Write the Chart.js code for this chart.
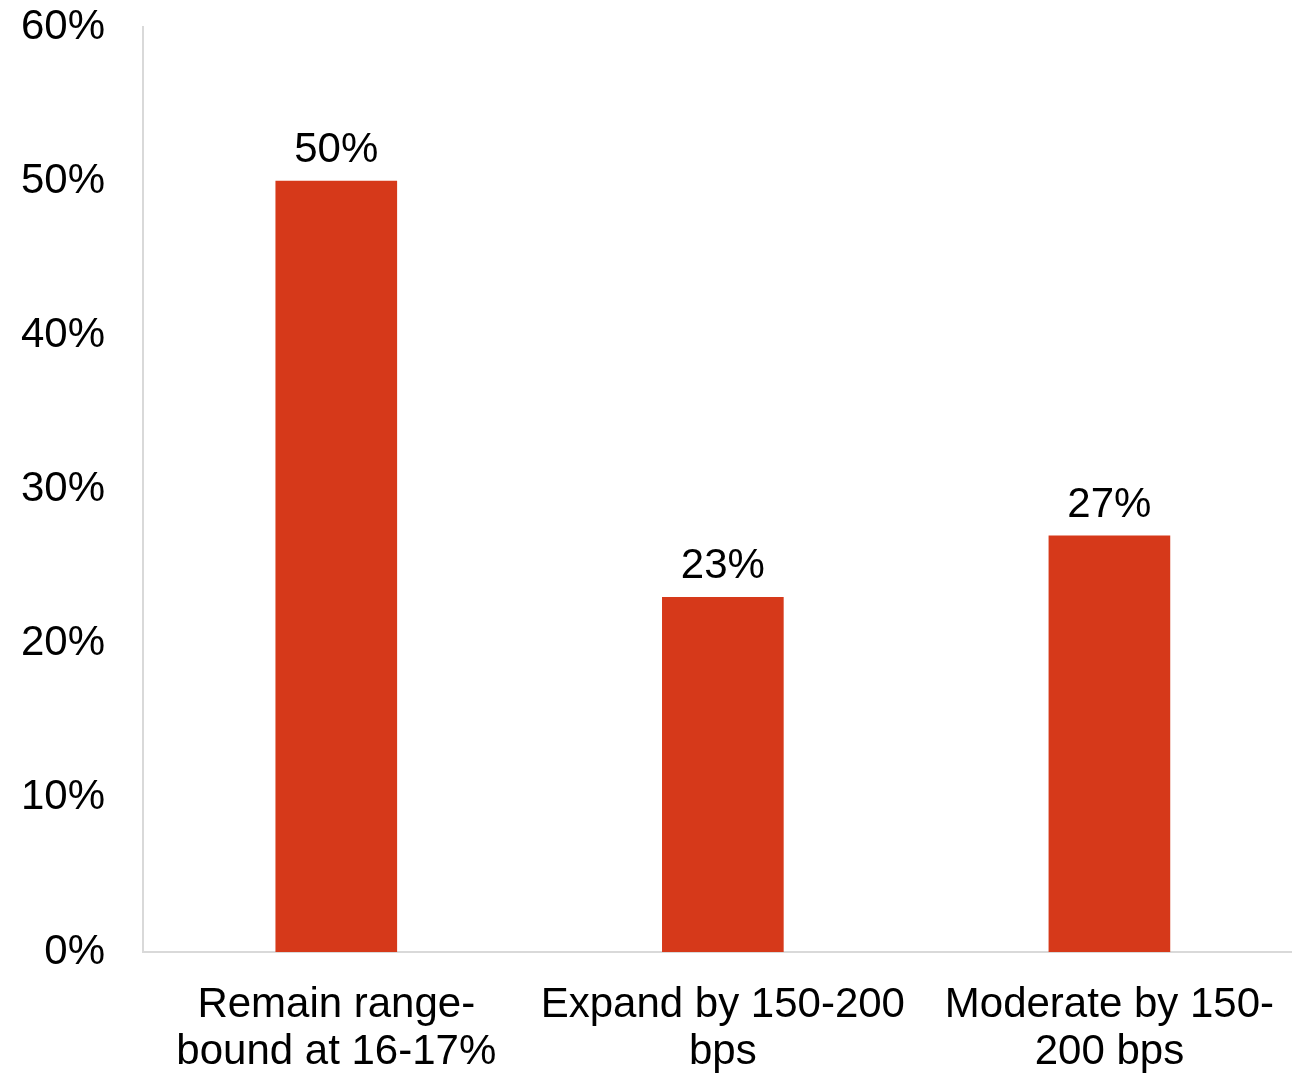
<!DOCTYPE html>
<html>
<head>
<meta charset="utf-8">
<script src="https://cdn.jsdelivr.net/npm/chart.js@4"></script>
<style>
  html, body { margin: 0; padding: 0; background: #ffffff; overflow: hidden; }
  #wrap { width: 1292px; height: 1076px; overflow: hidden; }
  #box { position: relative; width: 1304px; height: 1076px; }
</style>
</head>
<body>
<div id="wrap"><div id="box"><canvas id="c"></canvas></div></div>
<script>
// Outlook categories (multi-line labels)
const categories = [
  ['Remain range-', 'bound at 16-17%'],
  ['Expand by 150-200', 'bps'],
  ['Moderate by 150-', '200 bps']
];
// Share of respondents, in percent
const shares = [50, 23, 27];
// Y-axis tick values
const yTicks = [0, 10, 20, 30, 40, 50, 60];

const FONT = 'Liberation Sans, Arial, sans-serif';
const FONT_SIZE = 42;
const BAR = '#D6391A';
const AXIS = '#D9D9D9';

// Writes each bar's value just above its top
const valueLabels = {
  id: 'valueLabels',
  afterDatasetsDraw(chart) {
    const ctx = chart.ctx;
    const meta = chart.getDatasetMeta(0);
    ctx.save();
    ctx.font = FONT_SIZE + 'px ' + FONT;
    ctx.fillStyle = '#000000';
    ctx.textAlign = 'center';
    ctx.textBaseline = 'alphabetic';
    meta.data.forEach((bar, i) => {
      ctx.fillText(shares[i] + '%', bar.x, bar.y - 19);
    });
    ctx.restore();
  }
};

new Chart(document.getElementById('c'), {
  type: 'bar',
  data: {
    labels: categories,
    datasets: [{
      data: shares,
      backgroundColor: BAR,
      borderWidth: 0,
      barThickness: 121
    }]
  },
  options: {
    responsive: true,
    maintainAspectRatio: false,
    animation: false,
    layout: { padding: { top: 27, right: 0, left: 0, bottom: 0 } },
    plugins: {
      legend: { display: false },
      tooltip: { enabled: false }
    },
    scales: {
      x: {
        grid: { display: false, drawTicks: false },
        border: { display: true, color: AXIS, width: 2 },
        ticks: {
          color: '#000000',
          font: { family: FONT, size: FONT_SIZE, lineHeight: 1.12 },
          padding: 30,
          maxRotation: 0,
          autoSkip: false
        },
        afterFit(scale) { scale.height = 124; }
      },
      y: {
        min: 0,
        max: 60,
        afterBuildTicks(scale) { scale.ticks = yTicks.map(v => ({ value: v })); },
        grid: { display: false, drawTicks: false },
        border: { display: true, color: AXIS, width: 2 },
        ticks: {
          color: '#000000',
          font: { family: FONT, size: FONT_SIZE },
          padding: 38,
          callback: v => v + '%'
        },
        afterFit(scale) {
          scale.width = 143;
          scale.paddingTop = 0;
          scale.paddingBottom = 0;
        }
      }
    }
  },
  plugins: [valueLabels]
});
</script>
</body>
</html>
